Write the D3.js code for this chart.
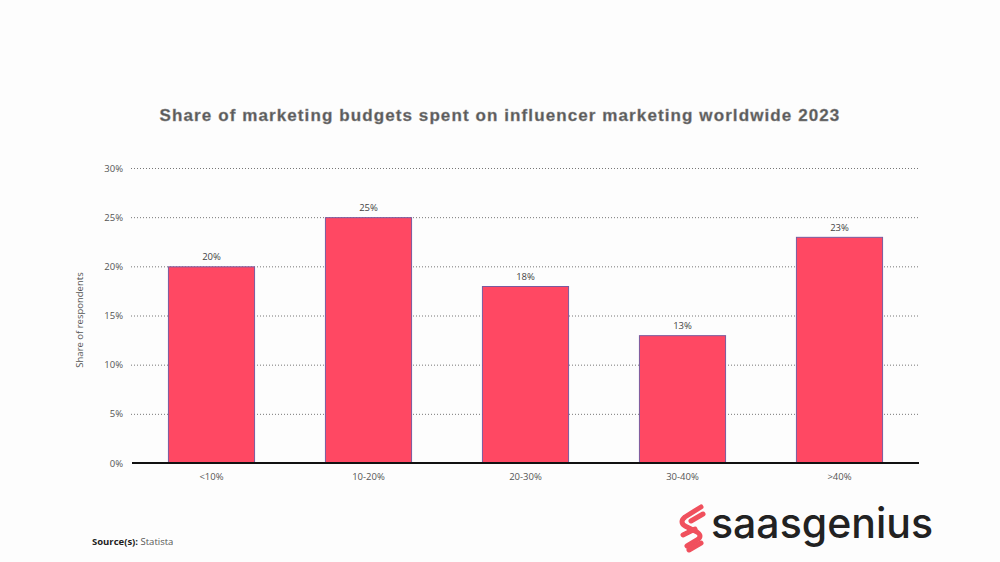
<!DOCTYPE html>
<html><head><meta charset="utf-8">
<script src="https://cdn.jsdelivr.net/npm/d3@7"></script>
<style>body{margin:0;background:#fff}svg{display:block}</style>
</head><body>
<script>
const categories = ["<10%", "10-20%", "20-30%", "30-40%", ">40%"];
const values = [20, 25, 18, 13, 23];
const yTicks = [0, 5, 10, 15, 20, 25, 30];
const title = "Share of marketing budgets spent on influencer marketing worldwide 2023";
const yLabel = "Share of respondents";

const W = 1000, H = 562;
const svg = d3.select("body").append("svg").attr("width", W).attr("height", H);
svg.append("rect").attr("width", W).attr("height", H).attr("fill", "#fdfdfd");

const x = d3.scaleBand().domain(categories).range([133, 918]).paddingInner(0.445).paddingOuter(0.2225);
const y = d3.scaleLinear().domain([0, 30]).range([463, 168]);

svg.append("text").attr("x", 500).attr("y", 121).attr("text-anchor", "middle")
  .attr("font-family", "Liberation Sans, Arial, sans-serif").attr("font-weight", "bold")
  .attr("font-size", 17).attr("letter-spacing", 1.1).attr("fill", "#5a5a5a").attr("stroke", "#8a8a8a").attr("stroke-width", 0.4)
  .text(title);

// gridlines
const yAxis = d3.axisLeft(y).tickValues(yTicks).tickFormat(d => d + "%").tickSize(0).tickPadding(7);
const gy = svg.append("g").attr("transform", "translate(130,0)").call(yAxis);
gy.select(".domain").remove();
gy.selectAll("text").attr("font-family", "Open Sans, sans-serif").attr("font-size", 9.5).attr("fill", "#555");
svg.append("g").selectAll("line").data(yTicks.filter(d => d > 0)).join("line")
  .attr("x1", 131).attr("x2", 919).attr("y1", d => y(d) + 0.5).attr("y2", d => y(d) + 0.5)
  .attr("stroke", "#777").attr("stroke-width", 1).attr("stroke-dasharray", "1,2");

// bars
svg.append("g").selectAll("rect").data(values).join("rect")
  .attr("x", (d, i) => x(categories[i]) + 0.5).attr("y", d => y(d) + 0.5)
  .attr("width", x.bandwidth() - 1).attr("height", d => y(0) - y(d))
  .attr("fill", "#ff4863").attr("stroke", "#7a5a9e").attr("stroke-width", 1);

svg.append("g").selectAll("text").data(values).join("text")
  .attr("x", (d, i) => x(categories[i]) + x.bandwidth() / 2).attr("y", d => y(d) - 6)
  .attr("text-anchor", "middle").attr("font-family", "Open Sans, sans-serif").attr("font-size", 9.5)
  .attr("fill", "#444").text(d => d + "%");

// baseline
svg.append("line").attr("x1", 132).attr("x2", 919).attr("y1", y(0)).attr("y2", y(0))
  .attr("stroke", "#111").attr("stroke-width", 2);

// x axis labels
const xAxis = d3.axisBottom(x).tickSize(0).tickPadding(10);
const gx = svg.append("g").attr("transform", `translate(0,${y(0)})`).call(xAxis);
gx.select(".domain").remove();
gx.selectAll("text").attr("font-family", "Open Sans, sans-serif").attr("font-size", 9.5).attr("fill", "#555");

svg.append("text").attr("transform", "translate(83,320) rotate(-90)").attr("text-anchor", "middle")
  .attr("font-family", "Open Sans, sans-serif").attr("font-size", 9.5).attr("fill", "#555").text(yLabel);

// source
const src = svg.append("text").attr("x", 92).attr("y", 545).attr("font-family", "Open Sans, sans-serif").attr("font-size", 9.5);
src.append("tspan").attr("font-weight", "bold").attr("fill", "#222").text("Source(s): ");
src.append("tspan").attr("fill", "#555").text("Statista");

// logo
const lg = svg.append("g").attr("transform", "translate(679,505)");
lg.append("path").attr("d", "M22,2 L6,12 Q0,17 6,21 L18,27 Q24,31 18,35 L8,41")
  .attr("fill", "none").attr("stroke", "#f0505d").attr("stroke-width", 5).attr("stroke-linecap", "round").attr("stroke-linejoin", "round");
lg.append("path").attr("d", "M24,9 L12,16 M4,30 L16,24 M22,38 L10,45")
  .attr("fill", "none").attr("stroke", "#f0505d").attr("stroke-width", 5).attr("stroke-linecap", "round");
svg.append("text").attr("x", 711).attr("y", 538).attr("font-family", "Inter, Lato, sans-serif")
  .attr("font-weight", 500).attr("font-size", 41).attr("fill", "#222").attr("letter-spacing", 0).text("saasgenius");
</script>
</body></html>
